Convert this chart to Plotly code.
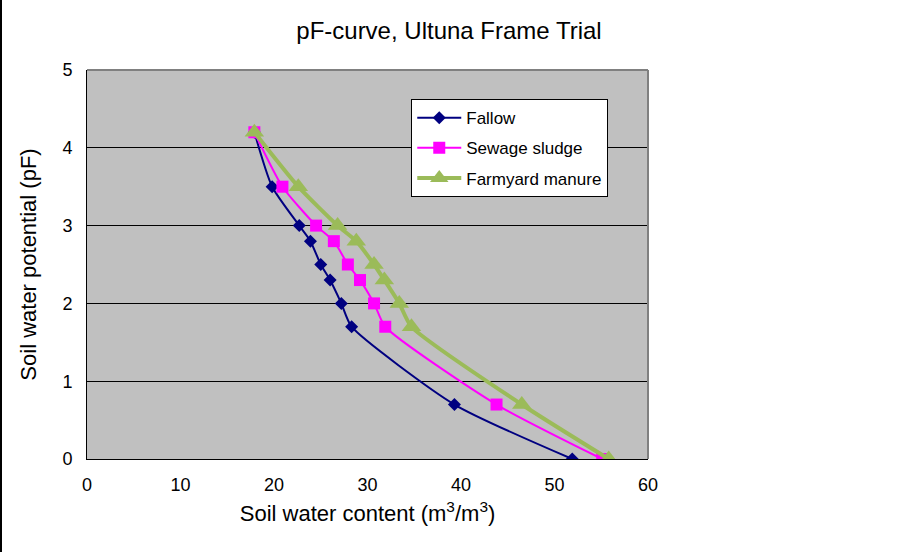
import plotly.graph_objects as go

# pF levels (soil water potential)
pf_fallow = [4.2, 3.5, 3.0, 2.8, 2.5, 2.3, 2.0, 1.7, 0.7, 0.0]
pf_sludge = [4.2, 3.5, 3.0, 2.8, 2.5, 2.3, 2.0, 1.7, 0.7, 0.0]
pf_manure = [4.2, 3.5, 3.0, 2.8, 2.5, 2.3, 2.0, 1.7, 0.7, 0.0]

# soil water content for each treatment
wc_fallow = [17.9, 19.8, 22.7, 23.9, 25.0, 26.0, 27.2, 28.3, 39.3, 51.9]
wc_sludge = [17.9, 20.9, 24.5, 26.4, 27.9, 29.2, 30.7, 31.9, 43.8, 55.1]
wc_manure = [17.9, 22.6, 26.8, 28.8, 30.7, 31.8, 33.4, 34.7, 46.5, 55.8]

FONT = "Liberation Sans, Arial, sans-serif"

fig = go.Figure()

fig.add_trace(go.Scatter(
    x=wc_fallow, y=pf_fallow, name="Fallow", legendgroup="a",
    mode="lines+markers", line=dict(color="#000080", width=2, shape="spline", smoothing=0.6),
    marker=dict(symbol="diamond", size=10, color="#000080")
))
fig.add_trace(go.Scatter(
    x=wc_sludge, y=pf_sludge, name="Sewage sludge", legendgroup="b",
    mode="lines+markers", line=dict(color="#FF00FF", width=2, shape="spline", smoothing=0.6),
    marker=dict(symbol="square", size=12, color="#FF00FF")
))
fig.add_trace(go.Scatter(
    x=wc_manure, y=pf_manure, name="Farmyard manure", legendgroup="c",
    mode="lines+markers", line=dict(color="#9BBB59", width=4, shape="spline", smoothing=0.6),
    marker=dict(symbol="triangle-up", size=17, color="#9BBB59")
))

# top and right frame of the plot area are grey, left/bottom black
fig.add_shape(type="line", xref="paper", yref="paper", x0=0, x1=1, y0=1, y1=1,
              line=dict(color="#808080", width=2))
fig.add_shape(type="line", xref="paper", yref="paper", x0=1, x1=1, y0=0, y1=1,
              line=dict(color="#808080", width=2))
# left edge of the chart image
fig.add_shape(type="line", xref="paper", yref="paper", x0=-86 / 561, x1=-86 / 561, y0=-93 / 389, y1=70 / 389 + 1,
              line=dict(color="black", width=2))

fig.update_layout(
    width=898, height=552,
    margin=dict(l=87, r=250, t=70, b=93),
    paper_bgcolor="white",
    plot_bgcolor="#C0C0C0",
    font=dict(family=FONT, size=18, color="black"),
    title=dict(text="pF-curve, Ultuna Frame Trial", x=0.5, xref="container", xanchor="center",
               y=0.944, yanchor="middle", font=dict(size=24)),
    xaxis=dict(
        range=[0, 60], dtick=10, showgrid=False, zeroline=False,
        showline=True, linecolor="black", linewidth=1,
        ticks="outside", ticklen=9, tickcolor="rgba(0,0,0,0)",
        title=dict(text="Soil water content (m<sup>3</sup>/m<sup>3</sup>)", standoff=12),
    ),
    yaxis=dict(
        range=[0, 5], dtick=1, showgrid=True, gridcolor="black", gridwidth=1, zeroline=False,
        showline=True, linecolor="black", linewidth=1,
        ticks="outside", ticklen=10, tickcolor="rgba(0,0,0,0)",
        title=dict(text="Soil water potential (pF)", standoff=19),
    ),
    legend=dict(
        x=0.578, y=0.925, xanchor="left", yanchor="top",
        bgcolor="white", bordercolor="black", borderwidth=1,
        font=dict(size=17), tracegroupgap=5, itemwidth=44,
    ),
    showlegend=True,
)

fig.write_html("out.html", post_script="document.body.style.margin='0';",
               config={"displayModeBar": False})
